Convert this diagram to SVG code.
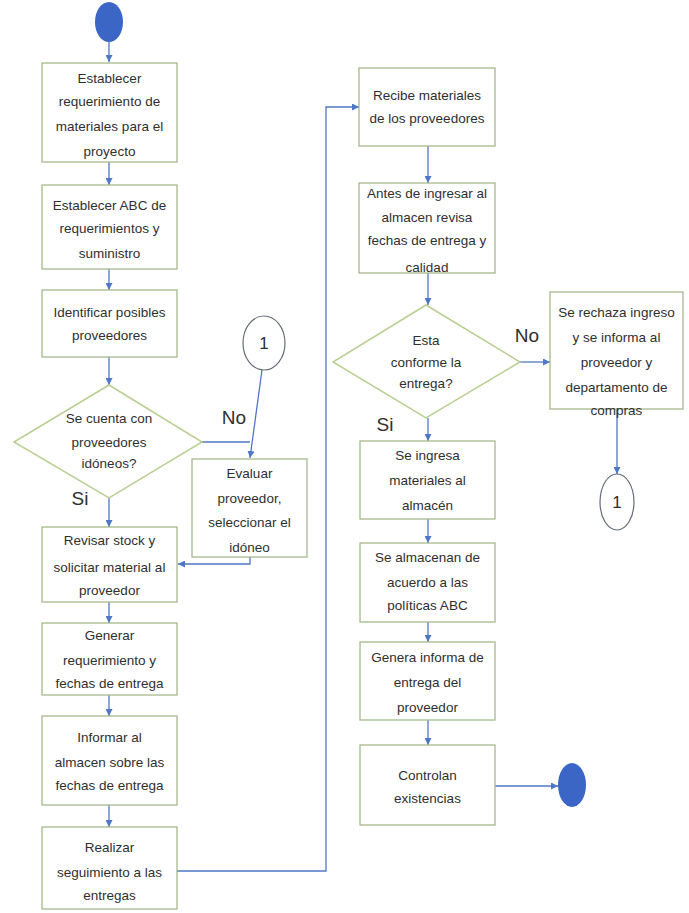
<svg xmlns="http://www.w3.org/2000/svg" width="689" height="913" viewBox="0 0 689 913">
<style>
.box{fill:#fff;stroke:#a6b98c;stroke-width:1.3}
.dia{fill:#fff;stroke:#b9cf93;stroke-width:1.5}
.t{font-family:"Liberation Sans",Arial,sans-serif;font-size:13.5px;fill:#2f2f2f;text-anchor:middle}
.lbl{font-family:"Liberation Sans",Arial,sans-serif;font-size:19px;fill:#2f2f2f;text-anchor:middle}
.term{fill:#3b66c6}
.conn{fill:#fff;stroke:#666d78;stroke-width:1.2}
.c{fill:none;stroke:#4f77c4;stroke-width:1.3;marker-end:url(#ah)}
.cn{fill:none;stroke:#4f77c4;stroke-width:1.3}
</style>
<defs>
<marker id="ah" viewBox="0 0 10 10" refX="10" refY="5" markerWidth="7" markerHeight="7" orient="auto" markerUnits="userSpaceOnUse">
<path d="M0,0 L10,5 L0,10 z" fill="#4f77c4"/>
</marker>
</defs>
<rect width="689" height="913" fill="#fff"/>

<g id="connectors">
<path class="c" d="M109,42 V62"/>
<path class="c" d="M109,162 V185"/>
<path class="c" d="M109,269 V290"/>
<path class="c" d="M109,357 V385"/>
<path class="cn" d="M202,442 H250"/>
<path class="c" d="M262,370 L250,458"/>
<path class="c" d="M109,498 V527"/>
<path class="c" d="M250,557 V564 H178"/>
<path class="c" d="M109,602 V623"/>
<path class="c" d="M109,695 V716"/>
<path class="c" d="M109,805 V827"/>
<path class="c" d="M177,871 H326 V107 H359"/>
<path class="c" d="M428,146 V183"/>
<path class="c" d="M428,273 V305"/>
<path class="c" d="M520,362 H550"/>
<path class="c" d="M617,409 V474"/>
<path class="c" d="M428,418 V441"/>
<path class="c" d="M428,519 V543"/>
<path class="c" d="M428,622 V642"/>
<path class="c" d="M428,720 V745"/>
<path class="c" d="M495,786 H558"/>
</g>

<g id="start"><ellipse class="term" cx="109" cy="22" rx="14" ry="20"/></g>

<g id="n1">
<rect class="box" x="42" y="63" width="135" height="99"/>
<text class="t" x="109.5" y="83">Establecer</text>
<text class="t" x="109.5" y="106">requerimiento de</text>
<text class="t" x="109.5" y="131">materiales para el</text>
<text class="t" x="109.5" y="156">proyecto</text>
</g>

<g id="n2">
<rect class="box" x="42" y="185" width="135" height="84"/>
<text class="t" x="109.5" y="210">Establecer ABC de</text>
<text class="t" x="109.5" y="233">requerimientos y</text>
<text class="t" x="109.5" y="258">suministro</text>
</g>

<g id="n3">
<rect class="box" x="42" y="290" width="135" height="67"/>
<text class="t" x="109.5" y="317">Identificar posibles</text>
<text class="t" x="109.5" y="340">proveedores</text>
</g>

<g id="d1">
<polygon class="dia" points="109,385 202,442 109,498 14,442"/>
<text class="t" x="109" y="423">Se cuenta con</text>
<text class="t" x="109" y="447">proveedores</text>
<text class="t" x="109" y="468">idóneos?</text>
</g>
<text class="lbl" x="234" y="424">No</text>
<text class="lbl" x="80" y="505">Si</text>

<g id="c1">
<ellipse class="conn" cx="264" cy="343" rx="21" ry="27"/>
<text class="t" x="264" y="349" style="font-size:17px">1</text>
</g>

<g id="n4">
<rect class="box" x="192" y="459" width="115" height="98"/>
<text class="t" x="249.5" y="478">Evaluar</text>
<text class="t" x="249.5" y="503">proveedor,</text>
<text class="t" x="249.5" y="527">seleccionar el</text>
<text class="t" x="249.5" y="552">idóneo</text>
</g>

<g id="n5">
<rect class="box" x="42" y="527" width="135" height="75"/>
<text class="t" x="109.5" y="545">Revisar stock y</text>
<text class="t" x="109.5" y="572">solicitar material al</text>
<text class="t" x="109.5" y="595">proveedor</text>
</g>

<g id="n6">
<rect class="box" x="42" y="623" width="135" height="72"/>
<text class="t" x="109.5" y="640">Generar</text>
<text class="t" x="109.5" y="665">requerimiento y</text>
<text class="t" x="109.5" y="688">fechas de entrega</text>
</g>

<g id="n7">
<rect class="box" x="42" y="716" width="135" height="89"/>
<text class="t" x="109.5" y="742">Informar al</text>
<text class="t" x="109.5" y="767">almacen sobre las</text>
<text class="t" x="109.5" y="790">fechas de entrega</text>
</g>

<g id="n8">
<rect class="box" x="42" y="827" width="135" height="82"/>
<text class="t" x="109.5" y="852">Realizar</text>
<text class="t" x="109.5" y="877">seguimiento a las</text>
<text class="t" x="109.5" y="900">entregas</text>
</g>

<g id="n9">
<rect class="box" x="359" y="68" width="136" height="78"/>
<text class="t" x="427" y="100">Recibe materiales</text>
<text class="t" x="427" y="123">de los proveedores</text>
</g>

<g id="n10">
<rect class="box" x="359" y="183" width="136" height="90"/>
<text class="t" x="427" y="198">Antes de ingresar al</text>
<text class="t" x="427" y="222">almacen revisa</text>
<text class="t" x="427" y="245">fechas de entrega  y</text>
<text class="t" x="427" y="272">calidad</text>
</g>

<g id="d2">
<polygon class="dia" points="426,305 520,362 426,418 333,362"/>
<text class="t" x="426" y="345">Esta</text>
<text class="t" x="426" y="367">conforme la</text>
<text class="t" x="426" y="388">entrega?</text>
</g>
<text class="lbl" x="527" y="342">No</text>
<text class="lbl" x="385" y="431">Si</text>

<g id="n11">
<rect class="box" x="550" y="292" width="133" height="117"/>
<text class="t" x="616.5" y="317">Se rechaza ingreso</text>
<text class="t" x="616.5" y="342">y se informa al</text>
<text class="t" x="616.5" y="367">proveedor y</text>
<text class="t" x="616.5" y="392">departamento de</text>
<text class="t" x="616.5" y="415">compras</text>
</g>

<g id="c2">
<ellipse class="conn" cx="617" cy="502" rx="17" ry="28"/>
<text class="t" x="617" y="508" style="font-size:17px">1</text>
</g>

<g id="n12">
<rect class="box" x="360" y="441" width="135" height="78"/>
<text class="t" x="427.5" y="460">Se ingresa</text>
<text class="t" x="427.5" y="485">materiales al</text>
<text class="t" x="427.5" y="510">almacén</text>
</g>

<g id="n13">
<rect class="box" x="360" y="543" width="135" height="79"/>
<text class="t" x="427.5" y="562">Se almacenan de</text>
<text class="t" x="427.5" y="587">acuerdo a las</text>
<text class="t" x="427.5" y="610">políticas ABC</text>
</g>

<g id="n14">
<rect class="box" x="360" y="642" width="135" height="78"/>
<text class="t" x="427.5" y="662">Genera informa de</text>
<text class="t" x="427.5" y="687">entrega del</text>
<text class="t" x="427.5" y="712">proveedor</text>
</g>

<g id="n15">
<rect class="box" x="360" y="745" width="135" height="80"/>
<text class="t" x="427.5" y="780">Controlan</text>
<text class="t" x="427.5" y="803">existencias</text>
</g>

<g id="end"><ellipse class="term" cx="572" cy="785" rx="14" ry="22"/></g>
</svg>
